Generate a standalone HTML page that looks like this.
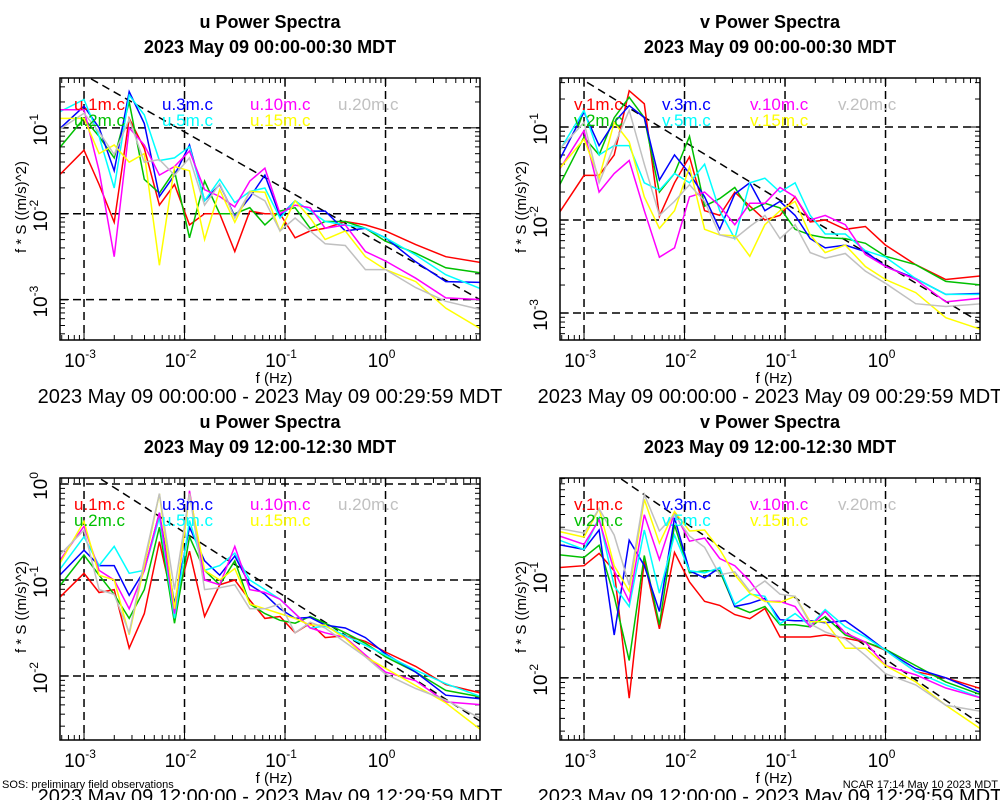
<!DOCTYPE html>
<html><head><meta charset="utf-8"><style>
body{margin:0;background:#fff;}
svg{display:block;font-family:"Liberation Sans",sans-serif;}
</style></head><body>
<svg id="chart" width="1000" height="800" viewBox="0 0 1000 800">
<rect width="1000" height="800" fill="#fff"/>
<text x="2" y="788" font-size="11">SOS: preliminary field observations</text>
<text x="998" y="788" font-size="11" text-anchor="end">NCAR 17:14 May 10 2023 MDT</text>
</svg>
<script>
const logFreqs=[-3.27,-3.0,-2.85,-2.7,-2.55,-2.4,-2.25,-2.1,-1.95,-1.8,-1.65,-1.5,-1.35,-1.2,-1.05,-0.9,-0.75,-0.6,-0.4,-0.2,0,0.3,0.6,0.96];
const seriesColors=["#ff0000","#00c000","#0000ff","#00ffff","#ff00ff","#ffff00","#c0c0c0"];
const heightsLabels=["1m","2m","3m","5m","10m","15m","20m"];
const p1Values=[
[-1.58,-1.26,-1.66,-2.1,-0.89,-1.24,-1.9,-1.66,-2.13,-2.0,-2.0,-2.44,-1.97,-2.0,-2.0,-2.28,-2.2,-2.17,-2.09,-2.13,-2.2,-2.36,-2.5,-2.57],
[-1.27,-0.89,-1.1,-1.35,-0.7,-1.6,-1.76,-1.5,-2.28,-1.62,-2.0,-2.0,-1.93,-2.13,-1.97,-1.93,-2.17,-2.09,-2.09,-2.17,-2.32,-2.46,-2.63,-2.69],
[-1.04,-0.75,-1.0,-1.5,-0.58,-0.95,-1.8,-1.55,-1.2,-1.85,-1.66,-2.03,-1.81,-1.55,-2.03,-1.85,-1.97,-1.97,-2.2,-2.17,-2.28,-2.56,-2.79,-2.8],
[-0.83,-0.67,-1.1,-1.7,-0.62,-0.85,-1.38,-1.35,-1.22,-1.85,-1.6,-1.87,-1.74,-1.7,-2.05,-1.85,-1.97,-2.09,-2.13,-2.17,-2.28,-2.48,-2.71,-2.88],
[-0.79,-0.79,-1.5,-2.5,-1.0,-1.2,-1.55,-1.45,-1.27,-1.72,-1.8,-1.92,-1.62,-1.47,-2.0,-1.9,-1.93,-2.17,-2.13,-2.44,-2.55,-2.75,-2.98,-3.0],
[-0.89,-0.89,-1.3,-1.2,-1.4,-1.3,-2.6,-1.45,-1.5,-2.3,-1.72,-2.1,-1.74,-1.75,-2.2,-1.85,-2.05,-2.3,-2.2,-2.5,-2.65,-2.79,-3.1,-3.35],
[-1.04,-0.83,-1.05,-1.31,-0.9,-1.4,-1.37,-1.55,-1.35,-1.9,-1.65,-2.05,-1.75,-1.85,-2.2,-2.05,-2.2,-2.35,-2.37,-2.65,-2.65,-2.86,-3.02,-3.12]];
const p2Values=[
[-1.96,-1.52,-1.52,-1.3,-0.61,-0.75,-1.96,-1.6,-1.32,-1.9,-1.95,-1.7,-1.85,-2.0,-1.95,-1.75,-2.02,-2.0,-2.1,-2.07,-2.27,-2.48,-2.64,-2.6],
[-1.68,-1.11,-1.3,-0.9,-0.68,-0.9,-1.7,-1.5,-1.1,-1.85,-1.77,-1.65,-1.9,-1.82,-1.87,-2.1,-2.16,-2.19,-2.2,-2.25,-2.39,-2.48,-2.66,-2.7],
[-1.41,-0.84,-1.2,-0.95,-0.77,-0.9,-1.57,-1.3,-1.5,-1.75,-2.1,-1.72,-1.6,-1.9,-1.8,-1.95,-2.2,-2.3,-2.27,-2.34,-2.5,-2.63,-2.8,-2.79],
[-1.3,-0.82,-1.3,-1.2,-1.2,-1.6,-1.68,-1.5,-1.6,-1.4,-1.9,-2.2,-1.6,-1.55,-1.7,-1.6,-1.95,-2.15,-2.15,-2.33,-2.4,-2.63,-2.8,-2.8],
[-1.5,-1.04,-1.7,-1.5,-1.36,-1.9,-2.4,-2.3,-1.75,-1.7,-1.85,-2.05,-1.82,-1.82,-1.65,-1.75,-2.0,-1.95,-2.05,-2.37,-2.5,-2.64,-2.88,-2.84],
[-1.48,-1.13,-1.55,-0.95,-1.16,-1.75,-2.09,-1.9,-1.43,-2.1,-2.16,-2.17,-2.39,-2.05,-1.9,-1.8,-2.16,-2.35,-2.27,-2.5,-2.64,-2.78,-3.05,-3.18],
[-1.27,-0.95,-1.6,-1.2,-0.82,-1.4,-1.95,-1.8,-1.62,-1.8,-2.16,-2.2,-2.07,-1.95,-2.2,-2.05,-2.35,-2.41,-2.36,-2.55,-2.68,-2.9,-2.93,-2.9]];
const p3Values=[
[-1.21,-0.93,-1.13,-1.1,-1.71,-1.35,-0.6,-1.3,-0.7,-1.38,-1.05,-1.0,-1.21,-1.4,-1.38,-1.55,-1.45,-1.6,-1.58,-1.64,-1.75,-1.9,-2.09,-2.18],
[-1.1,-0.74,-0.95,-1.15,-1.4,-1.1,-0.45,-1.45,-0.55,-0.9,-1.05,-0.8,-1.25,-1.35,-1.42,-1.45,-1.38,-1.45,-1.55,-1.66,-1.8,-1.96,-2.15,-2.22],
[-0.98,-0.69,-0.85,-0.85,-1.16,-0.9,-0.3,-1.25,-0.45,-0.8,-0.95,-0.75,-1.05,-1.15,-1.3,-1.4,-1.39,-1.47,-1.5,-1.6,-1.77,-1.96,-2.2,-2.24],
[-0.93,-0.55,-0.85,-0.65,-0.93,-0.9,-0.35,-1.4,-0.38,-0.9,-0.85,-0.72,-1.0,-1.1,-1.2,-1.35,-1.5,-1.48,-1.58,-1.68,-1.78,-1.94,-2.08,-2.22],
[-0.84,-0.44,-0.9,-1.0,-1.3,-0.9,-0.3,-1.35,-0.07,-1.0,-1.05,-0.65,-1.1,-1.13,-1.2,-1.35,-1.5,-1.55,-1.6,-1.78,-1.96,-2.05,-2.27,-2.3],
[-0.88,-0.39,-0.95,-1.0,-1.57,-0.85,-0.1,-1.3,-0.1,-0.9,-1.0,-0.88,-1.25,-1.3,-1.35,-1.4,-1.47,-1.47,-1.61,-1.8,-1.92,-2.1,-2.28,-2.57],
[-0.77,-0.48,-1.1,-1.15,-1.55,-0.8,-0.1,-1.1,-0.1,-1.1,-1.08,-1.05,-1.3,-1.3,-1.25,-1.55,-1.44,-1.5,-1.65,-1.8,-1.98,-2.13,-2.25,-2.45]];
const p4Values=[
[-0.92,-0.9,-0.78,-0.95,-2.2,-0.85,-1.52,-0.77,-1.06,-1.25,-1.29,-1.38,-1.42,-1.32,-1.6,-1.6,-1.6,-1.58,-1.61,-1.65,-1.73,-1.94,-2.0,-2.11],
[-0.79,-0.82,-0.7,-1.2,-1.83,-0.8,-1.48,-0.5,-0.97,-0.95,-0.95,-1.3,-1.36,-1.3,-1.48,-1.48,-1.5,-1.4,-1.58,-1.65,-1.72,-1.88,-2.04,-2.17],
[-0.69,-0.74,-0.55,-1.58,-0.65,-0.9,-1.35,-0.43,-0.95,-1.02,-0.92,-1.3,-1.27,-1.22,-1.43,-1.44,-1.44,-1.46,-1.44,-1.58,-1.73,-1.91,-2.0,-2.15],
[-0.64,-0.74,-0.43,-1.1,-1.3,-0.55,-1.17,-0.6,-0.95,-0.97,-0.92,-1.28,-1.18,-1.2,-1.47,-1.37,-1.49,-1.33,-1.5,-1.6,-1.73,-1.94,-2.07,-2.2],
[-0.6,-0.69,-0.45,-0.95,-1.25,-0.4,-0.84,-0.38,-0.66,-0.63,-0.83,-0.9,-1.05,-1.25,-1.25,-1.3,-1.5,-1.35,-1.56,-1.65,-1.88,-1.97,-2.1,-2.2],
[-0.56,-0.62,-0.34,-0.9,-1.15,-0.25,-0.68,-0.37,-0.56,-0.55,-0.74,-0.99,-1.17,-1.25,-1.26,-1.2,-1.45,-1.45,-1.71,-1.71,-1.88,-2.04,-2.27,-2.51],
[-0.53,-0.58,-0.34,-0.6,-1.09,-0.2,-0.56,-0.4,-0.61,-0.72,-0.99,-0.96,-1.15,-1.05,-1.18,-1.2,-1.47,-1.55,-1.62,-1.78,-1.96,-2.07,-2.27,-2.33]];
const refLines=[[-2.93,-0.43,0.94,-3.0],[-2.97,-0.52,0.94,-3.1],[-2.83,0.05,0.94,-2.47],[-2.63,-0.05,0.94,-2.45]];
const xTickExps=[-3,-2,-1,0];
const yTickExps=[[-1,-2,-3],[-1,-2,-3],[0,-1,-2],[-1,-2]];
const panelComps=["u","v","u","v"];
const panelTitles=["2023 May 09 00:00-00:30 MDT","2023 May 09 00:00-00:30 MDT","2023 May 09 12:00-12:30 MDT","2023 May 09 12:00-12:30 MDT"];
const panelRanges=["2023 May 09 00:00:00 - 2023 May 09 00:29:59 MDT","2023 May 09 00:00:00 - 2023 May 09 00:29:59 MDT","2023 May 09 12:00:00 - 2023 May 09 12:29:59 MDT","2023 May 09 12:00:00 - 2023 May 09 12:29:59 MDT"];
const yLimits=[[-0.42,-3.47],[-0.473,-3.29],[0.0625,-2.667],[-0.04,-2.61]];
const allValues=[p1Values,p2Values,p3Values,p4Values];

const NS="http://www.w3.org/2000/svg";
const svg=document.getElementById('chart');
function mk(tag,attrs,parent){const e=document.createElementNS(NS,tag);for(const k in attrs)e.setAttribute(k,attrs[k]);(parent||svg).appendChild(e);return e;}
const XMIN=-3.239,XMAX=0.94;
const boxes=[[60,78],[560,78],[60,478],[560,478]];
const W=420,H=262;

for(let p=0;p<4;p++){
  const [bx,by]=boxes[p];
  const [yt,yb]=yLimits[p];
  const xs=v=>bx+(v-XMIN)/(XMAX-XMIN)*W;
  const ys=v=>by+(yt-v)/(yt-yb)*H;
  const g=mk('g',{});
  
  
  const cx=bx+W/2;
  let t=mk('text',{x:cx,y:by-50,'font-size':18,'font-weight':'bold','text-anchor':'middle'},g);
  t.textContent=panelComps[p]+' Power Spectra';
  
  
  t=mk('text',{x:cx,y:by-25,'font-size':18,'font-weight':'bold','text-anchor':'middle'},g);
  t.textContent=panelTitles[p];
  
  
  const cp=mk('clipPath',{id:'clip'+p},g);
  mk('rect',{x:bx,y:by,width:W,height:H},cp);
  xTickExps.forEach(e=>{
    const l=mk('line',{x1:xs(e),x2:xs(e),y1:by,y2:by+H,stroke:'#000','stroke-width':1.5,'stroke-dasharray':'8,5'},g);
    
    
  });
  yTickExps[p].forEach(e=>{
    const l=mk('line',{x1:bx,x2:bx+W,y1:ys(e),y2:ys(e),stroke:'#000','stroke-width':1.5,'stroke-dasharray':'8,5'},g);
    
    
  });
  for(let d=-4;d<=1;d++)for(let m=1;m<10;m++){
    const v=d+Math.log10(m);
    if(v>XMIN&&v<XMAX){const x=xs(v),len=m==1?9:5;
      mk('line',{x1:x,x2:x,y1:by+H,y2:by+H-len,stroke:'#000'},g);
      mk('line',{x1:x,x2:x,y1:by,y2:by+len,stroke:'#000'},g);}
    if(v<yt&&v>yb){const y=ys(v),len=m==1?9:5;
      mk('line',{x1:bx,x2:bx+len,y1:y,y2:y,stroke:'#000'},g);
      mk('line',{x1:bx+W,x2:bx+W-len,y1:y,y2:y,stroke:'#000'},g);}
  }
  const r=refLines[p];
  const rl=mk('line',{x1:xs(r[0]),y1:ys(r[1]),x2:xs(r[2]),y2:ys(r[3]),stroke:'#000','stroke-width':1.5,'stroke-dasharray':'8,5','clip-path':'url(#clip'+p+')'},g);
  
  
  allValues[p].forEach((vals,i)=>{
    const pts=vals.map((v,j)=>xs(logFreqs[j]).toFixed(1)+','+ys(v).toFixed(1)).join(' ');
    const pl=mk('polyline',{points:pts,fill:'none',stroke:seriesColors[i],'stroke-width':1.5,'clip-path':'url(#clip'+p+')'},g);
    
    
  });
  const fr=mk('rect',{x:bx,y:by,width:W,height:H,fill:'none',stroke:'#000','stroke-width':1.5},g);
  
  
  const lx=[bx+14,bx+102,bx+190,bx+278];
  const pos=[[0,0],[0,1],[1,0],[1,1],[2,0],[2,1],[3,0]];
  heightsLabels.forEach((h,i)=>{
    const lt=mk('text',{x:lx[pos[i][0]],y:by+32+pos[i][1]*16,'font-size':17,fill:seriesColors[i]},g);
    lt.textContent=panelComps[p]+'.'+h+'.c';
    
    
  });
  xTickExps.forEach(e=>{
    const lt=mk('text',{x:xs(e)-4,y:by+H+27,'font-size':19,'text-anchor':'middle'},g);
    lt.innerHTML='10<tspan dy="-9" font-size="12">'+e+'</tspan>';
    
    
  });
  yTickExps[p].forEach(e=>{
    const y=ys(e);
    const lt=mk('text',{x:0,y:0,'font-size':19,'text-anchor':'middle',transform:'translate('+(bx-13)+','+(y+2)+') rotate(-90)'},g);
    lt.innerHTML='10<tspan dy="-9" font-size="12">'+e+'</tspan>';
    
    
  });
  let at=mk('text',{x:0,y:0,'font-size':15,'text-anchor':'middle',transform:'translate('+(bx-34)+','+(by+H/2-2)+') rotate(-90)'},g);
  at.textContent='f * S ((m/s)^2)';
  
  
  at=mk('text',{x:bx+214,y:by+H+43,'font-size':15,'text-anchor':'middle'},g);
  at.textContent='f (Hz)';
  
  
  at=mk('text',{x:bx+210,y:by+H+63,'font-size':20,'text-anchor':'middle'},g);
  at.textContent=panelRanges[p];
  
  
}
</script>
</body></html>
